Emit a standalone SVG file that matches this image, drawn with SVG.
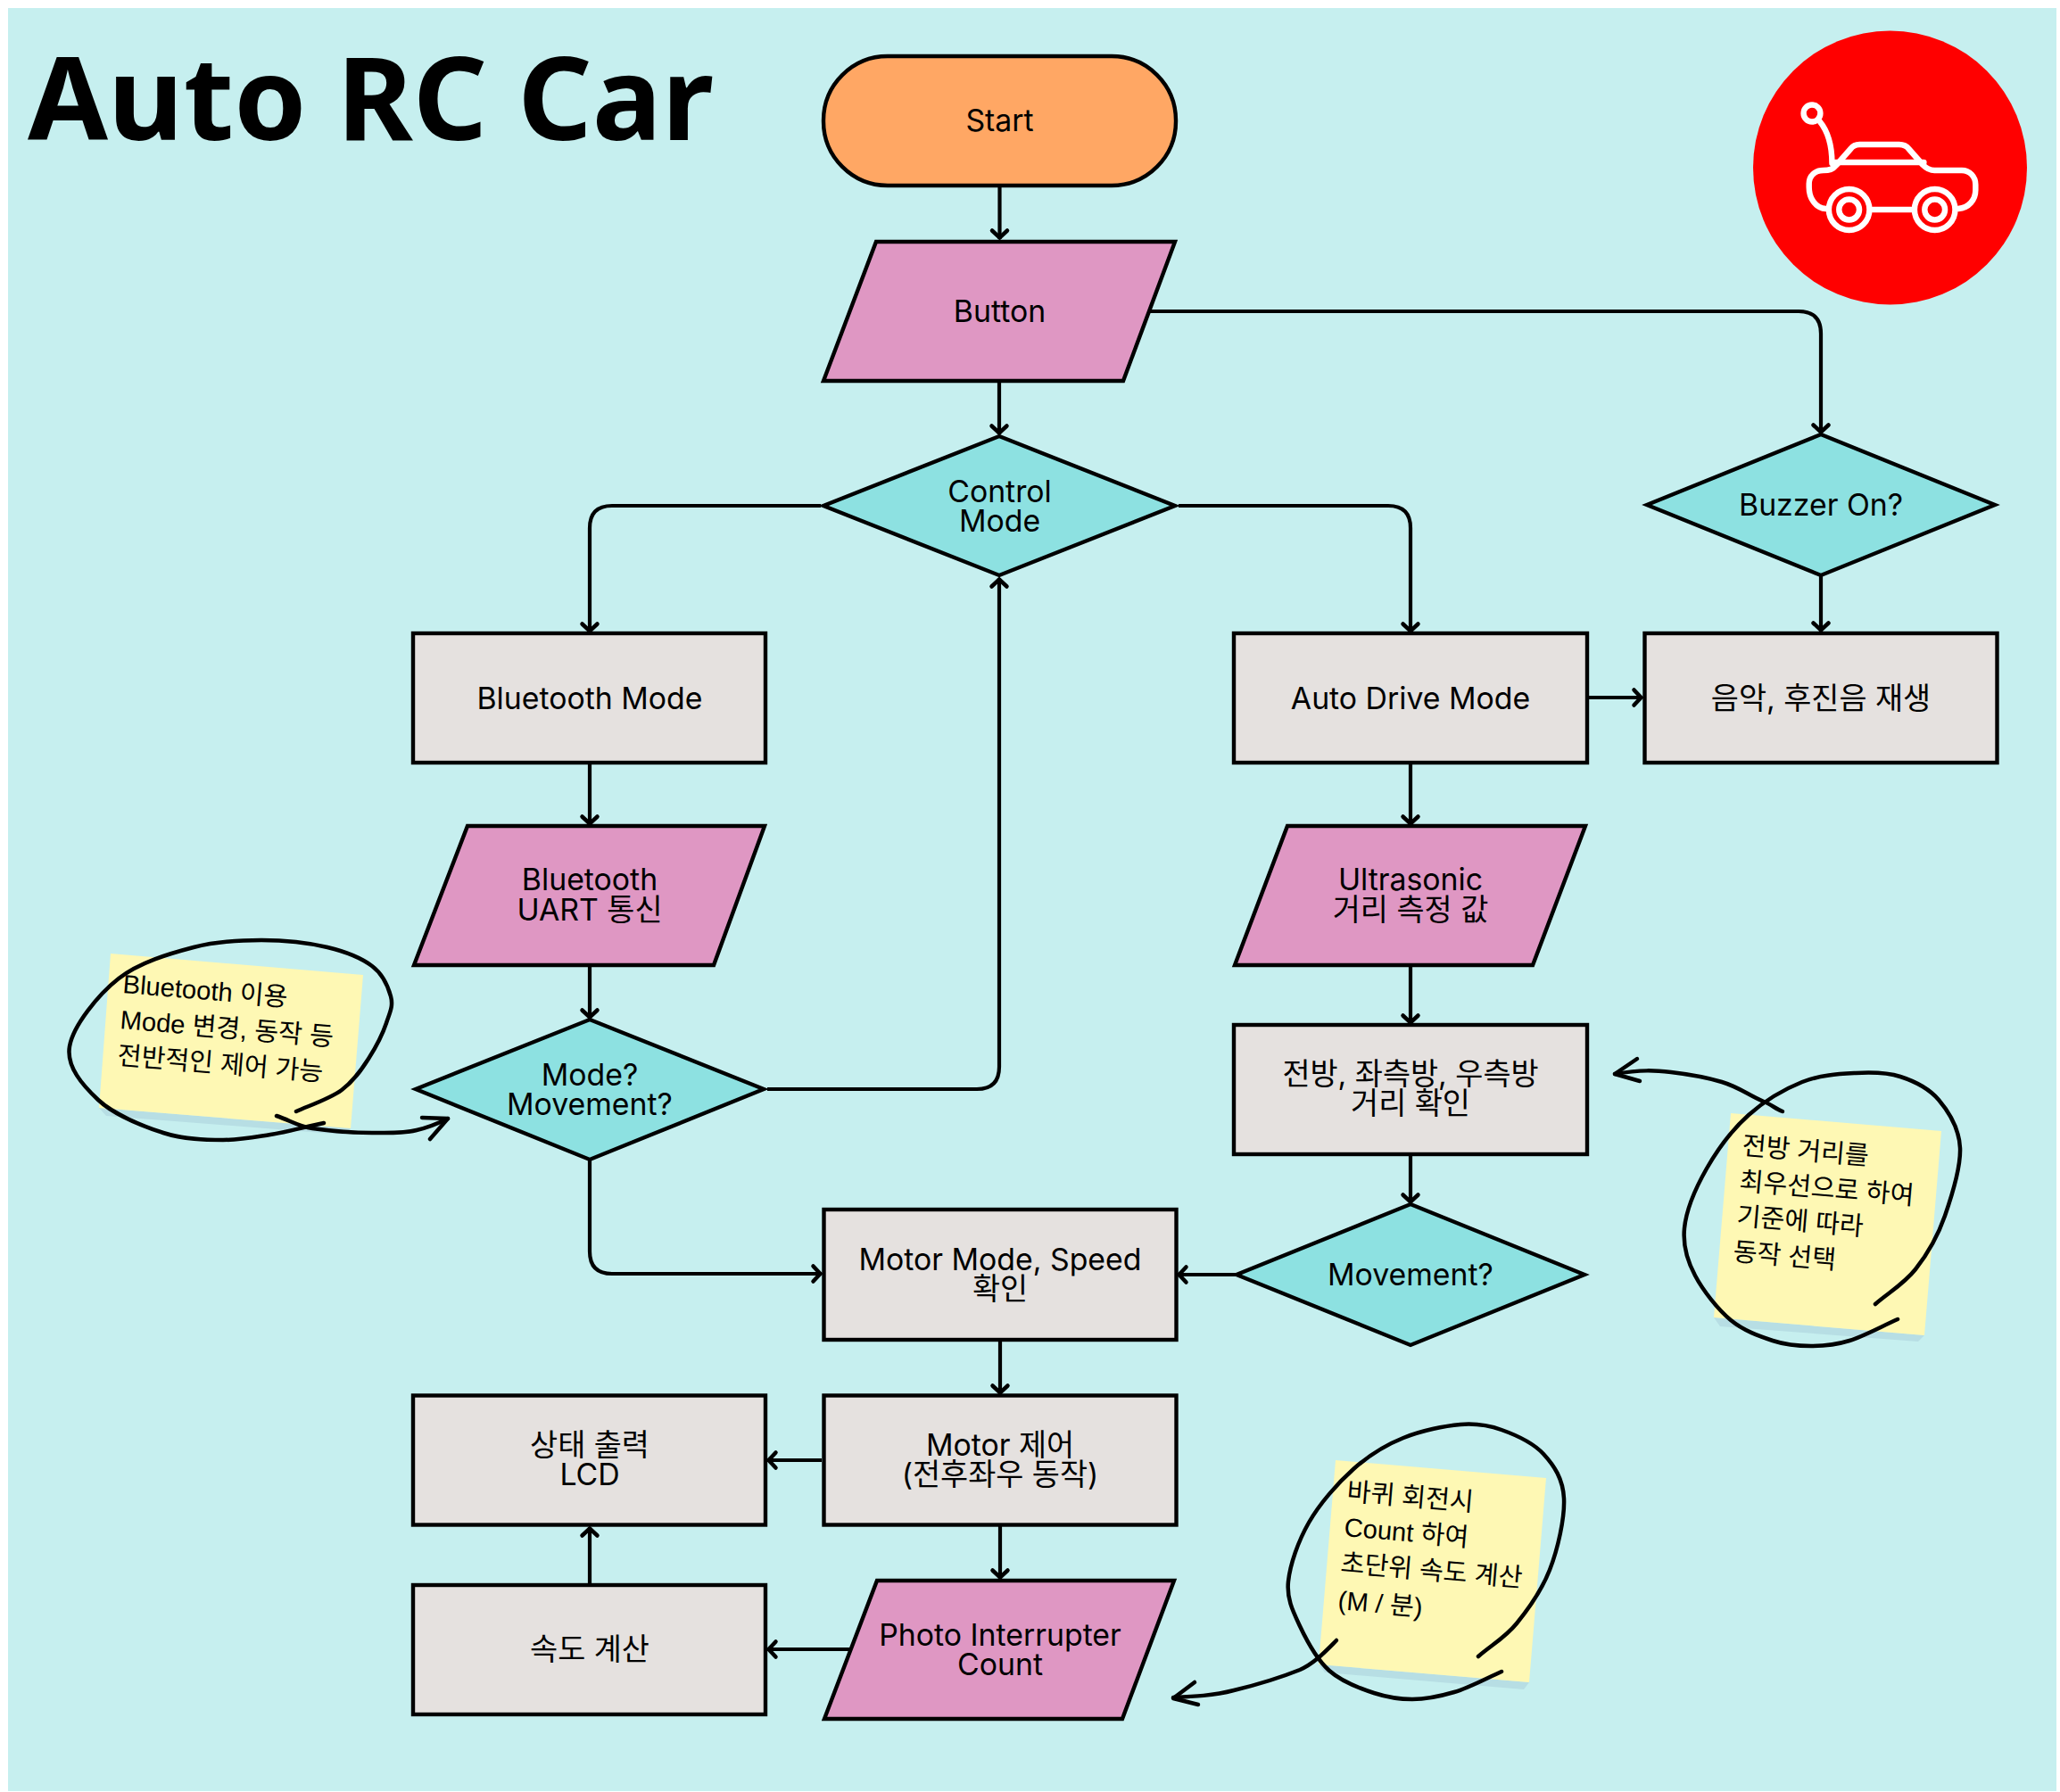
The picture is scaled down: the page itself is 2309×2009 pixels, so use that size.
<svg xmlns="http://www.w3.org/2000/svg" width="2309" height="2009" viewBox="0 0 2309 2009">
<style>
.n{stroke:#000;stroke-width:4.4;stroke-linejoin:miter}
.start{fill:#FFA764}.io{fill:#DF97C3}.dec{fill:#8DE1E1}.proc{fill:#E5E1DF}
.t{font-family:"Inter","Noto Sans CJK KR",sans-serif;font-size:33.8px;fill:#000;text-anchor:middle}
.c{fill:none;stroke:#000;stroke-width:4.2;marker-end:url(#ah)}
.note{fill:#FEF8B4}.shadow{fill:#B7DEE4}
.nt{font-family:"Liberation Sans","Noto Sans CJK KR",sans-serif;font-size:29.2px;fill:#000}
.ink{fill:none;stroke:#000;stroke-width:4.5;stroke-linecap:round;stroke-linejoin:round}
.ico{fill:none;stroke:#fff;stroke-width:6.5;stroke-linecap:round;stroke-linejoin:round}
</style>
<defs>
<marker id="ah" markerUnits="userSpaceOnUse" markerWidth="30" markerHeight="30" refX="20" refY="15" orient="auto" viewBox="0 0 30 30">
<path d="M10.5 6.5L18.5 15L10.5 23.5" fill="none" stroke="#000" stroke-width="4.5" stroke-linecap="round" stroke-linejoin="miter"/>
</marker>
</defs>
<rect id="background" x="9" y="9" width="2296" height="1999" fill="#C6EFEF"/>
<text id="title" x="31" y="157" font-family="'Noto Sans','Open Sans',sans-serif" font-weight="700" font-size="130" textLength="769" lengthAdjust="spacingAndGlyphs" fill="#000">Auto RC Car</text>

<g id="icon">
<circle cx="2118.5" cy="188" r="153.5" fill="#FF0000"/>
<g transform="matrix(.99 0 0 1 19 0)">
<circle class="ico" cx="2032.3" cy="127" r="9.5"/>
<path class="ico" d="M2041 136C2051 148 2055 162 2055 183"/>
<path class="ico" d="M2048 234C2036 233 2029 222 2029 210V206C2029 197 2036 191 2045 191C2052 191 2056 190 2060 185L2076 167C2079 163 2082 162 2086 162H2131C2136 162 2139 163 2142 167L2158 185C2162 189 2165 191 2171 191H2202C2211 191 2217.5 198 2217.5 207V213C2217.5 224 2210 233 2198 234"/>
<path class="ico" d="M2058 182H2159M2100.7 235H2145.8"/>
<circle class="ico" cx="2074.4" cy="235" r="23"/><circle class="ico" cx="2074.4" cy="235" r="11.5"/>
<circle class="ico" cx="2171.4" cy="235" r="23"/><circle class="ico" cx="2171.4" cy="235" r="11.5"/>
</g>
</g>

<g id="connectors">
<path class="c" d="M1120.5 208V268"/>
<path class="c" d="M1288 349H2016Q2041 349 2041 374V486"/>
<path class="c" d="M1120 427V487"/>
<path class="c" d="M920 567H686Q661 567 661 592V709"/>
<path class="c" d="M1321 567H1556Q1581 567 1581 592V709"/>
<path class="c" d="M2041 645V708"/>
<path class="c" d="M1779 782H1841"/>
<path class="c" d="M661 855V925"/>
<path class="c" d="M661 1082V1142"/>
<path class="c" d="M1581 855V925"/>
<path class="c" d="M1581 1082V1148"/>
<path class="c" d="M1581 1294V1349"/>
<path class="c" d="M1386 1429H1320"/>
<path class="c" d="M860 1221H1095Q1120 1221 1120 1196V648"/>
<path class="c" d="M661 1300V1403Q661 1428 686 1428H921"/>
<path class="c" d="M1121 1502V1563"/>
<path class="c" d="M921 1637H860"/>
<path class="c" d="M953 1849H860"/>
<path class="c" d="M661 1776V1712"/>
<path class="c" d="M1121 1710V1770"/>
</g>

<g id="start"><rect class="n start" x="923" y="63" width="395" height="145" rx="72"/><text class="t" x="1120.5" y="147">Start</text></g>
<g id="button"><polygon class="n io" points="982,271 1317,271 1259,427 923,427"/><text class="t" x="1120.5" y="361">Button</text></g>
<g id="control-mode"><polygon class="n dec" points="1120,489 1317,567 1120,645 923,567"/><text class="t" x="1120.5" y="563">Control</text><text class="t" x="1120.5" y="596">Mode</text></g>
<g id="buzzer"><polygon class="n dec" points="2041,487 2236,566 2041,645 1846,566"/><text class="t" x="2041" y="578">Buzzer On?</text></g>
<g id="bluetooth-mode"><rect class="n proc" x="463" y="710" width="395" height="145"/><text class="t" x="661" y="795">Bluetooth Mode</text></g>
<g id="auto-drive-mode"><rect class="n proc" x="1383" y="710" width="396" height="145"/><text class="t" x="1581" y="795">Auto Drive Mode</text></g>
<g id="sound"><rect class="n proc" x="1843.5" y="710" width="395" height="145"/><text class="t" x="2041" y="795">음악, 후진음 재생</text></g>
<g id="bluetooth-uart"><polygon class="n io" points="524,926 857,926 800,1082 464,1082"/><text class="t" x="661" y="998">Bluetooth</text><text class="t" x="661" y="1032">UART 통신</text></g>
<g id="ultrasonic"><polygon class="n io" points="1443,926 1777,926 1718,1082 1384,1082"/><text class="t" x="1581" y="998">Ultrasonic</text><text class="t" x="1581" y="1032">거리 측정 값</text></g>
<g id="mode-movement"><polygon class="n dec" points="661,1143 856,1221 661,1300 466,1221"/><text class="t" x="661" y="1217">Mode?</text><text class="t" x="661" y="1250">Movement?</text></g>
<g id="direction-check"><rect class="n proc" x="1383" y="1149" width="396" height="145"/><text class="t" x="1581" y="1216">전방, 좌측방, 우측방</text><text class="t" x="1581" y="1249">거리 확인</text></g>
<g id="movement"><polygon class="n dec" points="1581,1350 1776,1429 1581,1508 1386,1429"/><text class="t" x="1581" y="1441">Movement?</text></g>
<g id="motor-mode"><rect class="n proc" x="923.5" y="1356" width="395" height="146"/><text class="t" x="1121" y="1424">Motor Mode, Speed</text><text class="t" x="1121" y="1457">확인</text></g>
<g id="motor-control"><rect class="n proc" x="923.5" y="1564.5" width="395" height="145"/><text class="t" x="1121" y="1632">Motor 제어</text><text class="t" x="1121" y="1665">(전후좌우 동작)</text></g>
<g id="status-lcd"><rect class="n proc" x="463" y="1564.5" width="395" height="145"/><text class="t" x="661" y="1632">상태 출력</text><text class="t" x="661" y="1665">LCD</text></g>
<g id="speed-calc"><rect class="n proc" x="463" y="1777" width="395" height="145"/><text class="t" x="661" y="1861">속도 계산</text></g>
<g id="photo-interrupter"><polygon class="n io" points="983,1772 1316,1772 1258,1927 924,1927"/><text class="t" x="1121" y="1845">Photo Interrupter</text><text class="t" x="1121" y="1878">Count</text></g>

<g id="note-bluetooth">
<polygon class="shadow" points="111,1242 119,1251 386,1272 393,1265"/>
<polygon class="note" points="124,1069 407,1093 393,1265 111,1242"/>
<g class="nt">
<text transform="translate(137,1113) rotate(4.7)">Bluetooth 이용</text>
<text transform="translate(134,1153) rotate(4.7)">Mode 변경, 동작 등</text>
<text transform="translate(131,1193) rotate(4.7)">전반적인 제어 가능</text>
</g>
<path class="ink" d="M332 1246C345 1240 369.5 1232 383 1222C396.5 1212 405 1199.5 413 1187C421 1174.5 429 1159 433 1147C437 1135 441 1128 438 1117C435 1106 429 1092 417 1083C405 1074 388 1067 367 1062C346 1057 318 1054 293 1054C268 1054 244 1055 217 1062C190 1069 156 1079 133 1097C110 1115 82 1150 78 1173C74 1196 93 1217 110 1233C127 1249 160 1262.5 183 1270C206 1277.5 230 1278 250 1278C270 1278 284 1275 303 1272C322 1269 343 1263 363 1259"/>
<path class="ink" d="M310 1251C325 1256 335 1263 350 1265C372 1268 395 1270 417 1270C436 1270 452 1271 467 1267C480 1264 492 1259 502 1254"/>
<path class="ink" d="M473 1253L502 1254L482 1277"/>
</g>

<g id="note-distance">
<polygon class="shadow" points="1921,1477 1928,1487 2150,1504 2157,1497"/>
<polygon class="note" points="1940,1248 2176,1268 2157,1497 1921,1477"/>
<g class="nt">
<text transform="translate(1952,1294) rotate(4.8)">전방 거리를</text>
<text transform="translate(1949,1334) rotate(4.8)">최우선으로 하여</text>
<text transform="translate(1946,1373) rotate(4.8)">기준에 따라</text>
<text transform="translate(1942,1413) rotate(4.8)">동작 선택</text>
</g>
<path class="ink" d="M2102 1462C2117 1449 2134 1439.5 2147 1423C2160 1406.5 2172 1386 2180 1363C2188 1340 2198 1309 2197 1287C2196 1265 2184 1246 2173 1233C2162 1220 2145.5 1212 2130 1207C2114.5 1202 2098 1202 2080 1203C2062 1204 2040 1205 2020 1213C2000 1221 1978 1234 1960 1250C1942 1266 1925 1289 1913 1310C1901 1331 1890 1357 1888 1377C1886 1397 1891 1413 1900 1430C1909 1447 1925.5 1468 1940 1480C1954.5 1492 1972 1498 1987 1503C2002 1508 2016 1509 2030 1509C2044 1509 2057 1508 2073 1503C2089 1498 2109 1487 2127 1479"/>
<path class="ink" d="M1998 1246C1990 1243 1985 1238 1977 1235C1960 1228 1950 1219 1930 1213C1910 1207 1890 1204 1873 1202C1855 1200 1840 1199 1810 1204"/>
<path class="ink" d="M1835 1187L1810 1204L1838 1212"/>
</g>

<g id="note-speed">
<polygon class="shadow" points="1478,1866 1485,1875 1708,1894 1714,1886"/>
<polygon class="note" points="1497,1637 1733,1657 1714,1886 1478,1866"/>
<g class="nt">
<text transform="translate(1509,1682) rotate(4.8)">바퀴 회전시</text>
<text transform="translate(1506,1722) rotate(4.8)">Count 하여</text>
<text transform="translate(1502,1762) rotate(4.8)">초단위 속도 계산</text>
<text transform="translate(1499,1804) rotate(4.8)">(M / 분)</text>
</g>
<path class="ink" d="M1657 1857C1672 1844 1687 1836 1700 1820C1713 1804 1728 1783 1737 1760C1746 1737 1754 1702 1753 1680C1752 1658 1742 1643 1730 1630C1718 1617 1698.5 1608.5 1683 1603C1667.5 1597.5 1655 1595.5 1637 1597C1619 1598.5 1593 1604 1573 1612C1553 1620 1535 1631 1517 1647C1499 1663 1479 1686 1467 1707C1455 1728 1446 1754 1444 1773C1442 1792 1449 1806 1457 1823C1465 1840 1476 1860.5 1490 1873C1504 1885.5 1524.5 1893 1540 1898C1555.5 1903 1568 1905 1583 1905C1598 1905 1613 1902 1630 1897C1647 1892 1665 1882 1683 1874"/>
<path class="ink" d="M1498 1839C1485 1852 1473 1865 1457 1872C1432 1882 1408 1889 1383 1895C1360 1901 1338 1902 1315 1903"/>
<path class="ink" d="M1339 1886L1315 1904L1343 1911"/>
</g>
</svg>
